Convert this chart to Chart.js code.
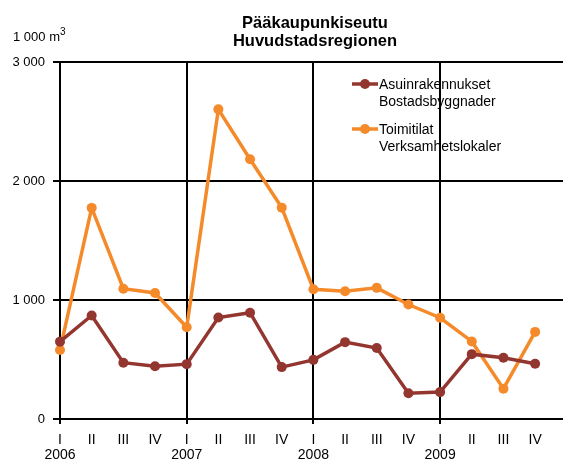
<!DOCTYPE html>
<html>
<head>
<meta charset="utf-8">
<script src="https://cdn.jsdelivr.net/npm/chart.js@4/dist/chart.umd.min.js"></script>
<style>
  html, body { margin: 0; padding: 0; background: #fff; }
  #wrap { width: 563px; height: 462px; position: relative; }
</style>
</head>
<body>
<div id="wrap"><canvas id="chart" width="563" height="462"></canvas></div>
<script>
const quarters = ['I', 'II', 'III', 'IV', 'I', 'II', 'III', 'IV', 'I', 'II', 'III', 'IV', 'I', 'II', 'III', 'IV'];
const years = ['2006', '', '', '', '2007', '', '', '', '2008', '', '', '', '2009', '', '', ''];
const asuin = [650, 870, 473, 444, 461, 853, 893, 436, 497, 646, 596, 216, 226, 545, 514, 465];
const toimi = [580, 1774, 1095, 1059, 771, 2602, 2183, 1776, 1090, 1074, 1102, 962, 851, 652, 255, 732];
const yTicks = [0, 1000, 2000, 3000];

const titleLines = ['Pääkaupunkiseutu', 'Huvudstadsregionen'];
const unitLabel = '1 000 m';
const legendItems = [
    { lines: ['Asuinrakennukset', 'Bostadsbyggnader'], color: '#943630' },
    { lines: ['Toimitilat', 'Verksamhetslokaler'], color: '#F58A2A' }
];

const FONT = '"Liberation Sans", Arial, sans-serif';

const toPoints = arr => arr.map((v, i) => ({ x: i, y: v }));

// title, unit label and legend drawn on the canvas
const extras = {
    id: 'extras',
    afterDraw(chart) {
        const ctx = chart.ctx;
        ctx.save();
        ctx.fillStyle = '#000';
        ctx.textBaseline = 'middle';

        ctx.font = 'bold 16.5px ' + FONT;
        ctx.textAlign = 'center';
        ctx.fillText(titleLines[0], 315, 23);
        ctx.fillText(titleLines[1], 315, 41);

        ctx.font = '13px ' + FONT;
        ctx.textAlign = 'left';
        ctx.fillText(unitLabel, 13, 37);
        const w = ctx.measureText(unitLabel).width;
        ctx.font = '10px ' + FONT;
        ctx.fillText('3', 13 + w, 32);

        ctx.font = '14px ' + FONT;
        legendItems.forEach((item, i) => {
            const y = 84 + i * 45;
            ctx.strokeStyle = item.color;
            ctx.lineWidth = 3.5;
            ctx.beginPath();
            ctx.moveTo(352, y);
            ctx.lineTo(378, y);
            ctx.stroke();
            ctx.fillStyle = item.color;
            ctx.beginPath();
            ctx.arc(365, y, 5, 0, Math.PI * 2);
            ctx.fill();
            ctx.fillStyle = '#000';
            ctx.fillText(item.lines[0], 379, y + 1);
            ctx.fillText(item.lines[1], 379, y + 18);
        });
        ctx.restore();
    }
};

new Chart(document.getElementById('chart'), {
    type: 'line',
    data: {
        datasets: [
            {
                label: legendItems[0].lines.join(' '),
                data: toPoints(asuin),
                borderColor: '#943630',
                backgroundColor: '#943630',
                borderWidth: 3.5,
                pointRadius: 5,
                pointBorderWidth: 0,
                tension: 0,
                clip: false
            },
            {
                label: legendItems[1].lines.join(' '),
                data: toPoints(toimi),
                borderColor: '#F58A2A',
                backgroundColor: '#F58A2A',
                borderWidth: 3.5,
                pointRadius: 5,
                pointBorderWidth: 0,
                tension: 0,
                clip: false
            }
        ]
    },
    options: {
        responsive: false,
        animation: false,
        layout: { autoPadding: false, padding: { top: 62, right: 0, left: 0, bottom: 0 } },
        plugins: {
            legend: { display: false },
            title: { display: false },
            tooltip: { enabled: false }
        },
        scales: {
            x: {
                type: 'linear',
                min: 0,
                max: 15.88,
                afterBuildTicks: s => { s.ticks = quarters.map((_, i) => ({ value: i })); },
                afterFit: s => {
                    s.height = 43;
                    s.paddingLeft = 0;
                    s.paddingRight = 0;
                },
                grid: {
                    color: c => (c.tick && c.tick.value % 4 === 0) ? '#000' : 'rgba(0,0,0,0)',
                    lineWidth: 2,
                    tickLength: 5
                },
                border: { display: true, color: '#000', width: 2 },
                ticks: {
                    autoSkip: false,
                    maxRotation: 0,
                    padding: 9,
                    color: '#000',
                    font: { family: FONT, size: 14, lineHeight: '15px' },
                    callback: v => years[v] ? [quarters[v], years[v]] : quarters[v]
                }
            },
            y: {
                min: 0,
                max: 3000,
                afterBuildTicks: s => { s.ticks = yTicks.map(v => ({ value: v })); },
                afterFit: s => {
                    s.width = 60;
                    s.paddingTop = 0;
                    s.paddingBottom = 0;
                },
                grid: { color: '#000', lineWidth: 2, tickLength: 7 },
                border: { display: true, color: '#000', width: 2 },
                ticks: {
                    padding: 8,
                    color: '#000',
                    font: { family: FONT, size: 13 },
                    callback: v => v >= 1000 ? String(v).replace(/\B(?=(\d{3})+(?!\d))/g, ' ') : String(v)
                }
            }
        }
    },
    plugins: [extras]
});
</script>
</body>
</html>
